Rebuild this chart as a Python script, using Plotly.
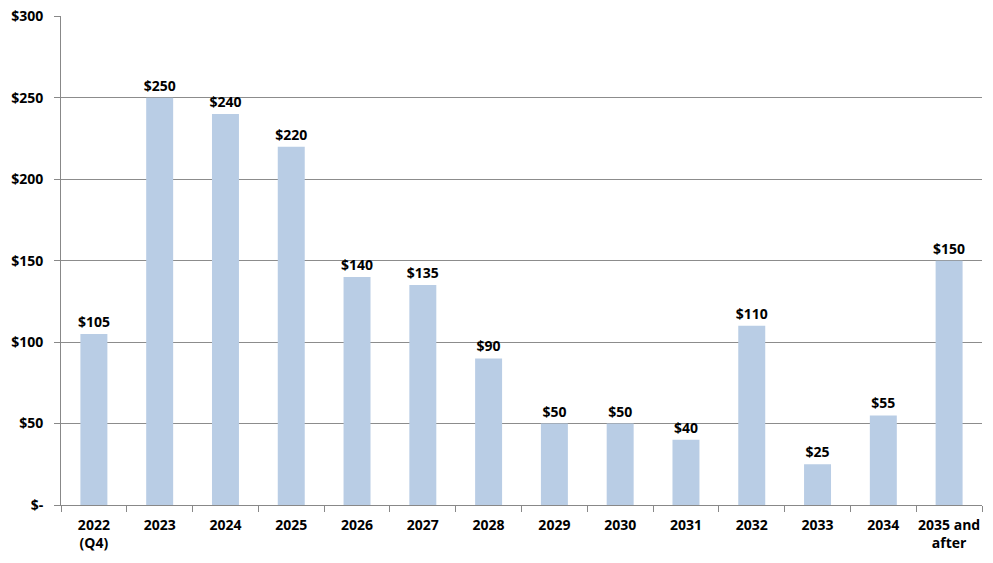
import plotly.graph_objects as go

categories = ["2022<br>(Q4)", "2023", "2024", "2025", "2026", "2027", "2028",
              "2029", "2030", "2031", "2032", "2033", "2034", "2035 and<br>after"]
values = [105, 250, 240, 220, 140, 135, 90, 50, 50, 40, 110, 25, 55, 150]
labels = ["$" + str(v) for v in values]
y_ticks = [0, 50, 100, 150, 200, 250, 300]
y_tick_labels = ["$-", "$50", "$100", "$150", "$200", "$250", "$300"]

font_family = "Open Sans"
fsize = 14

fig = go.Figure(go.Bar(
    x=categories, y=values, text=labels, textposition="outside",
    cliponaxis=False, constraintext="none",
    textfont=dict(family=font_family, size=fsize, color="black", weight="bold"),
    marker=dict(color="#B9CDE5", line=dict(width=0)),
))

fig.update_layout(
    width=993, height=563,
    margin=dict(l=61, r=11, t=16, b=58),
    paper_bgcolor="white", plot_bgcolor="white",
    bargap=0.59, showlegend=False,
    font=dict(family=font_family, size=fsize, color="black", weight="bold"),
)
fig.update_xaxes(
    type="category", showgrid=False, showline=True, linecolor="#888888", linewidth=1,
    ticks="outside", tickson="boundaries", ticklen=6, tickcolor="#888888",
    tickangle=0, automargin=False, ticklabelstandoff=7,
    tickfont=dict(family=font_family, size=fsize, color="black", weight="bold"),
)
fig.update_yaxes(
    range=[0, 300.2], tickvals=y_ticks, ticktext=y_tick_labels,
    showgrid=True, gridcolor="#8c8c8c", gridwidth=1,
    showline=True, linecolor="#888888", linewidth=1,
    ticks="outside", ticklen=6, tickcolor="#888888", automargin=False,
    ticklabelstandoff=8, ticklabeloverflow="allow",
    tickfont=dict(family=font_family, size=fsize, color="black", weight="bold"),
    zeroline=False,
)

fig.write_html("out.html", config={"displayModeBar": False},
               post_script="document.body.style.margin='0';")
